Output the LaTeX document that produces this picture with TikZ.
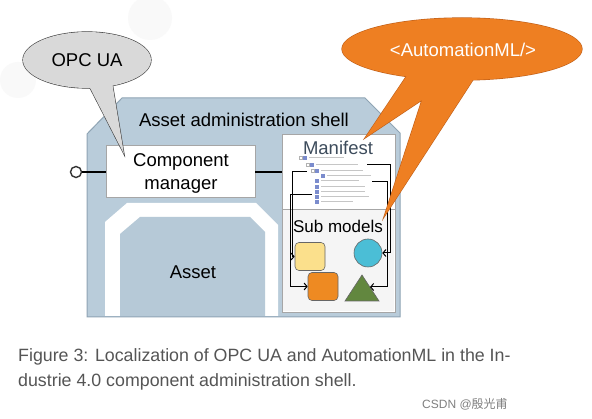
\documentclass[tikz,border=0pt]{standalone}
\usepackage{fontspec}
\setmainfont{Liberation Sans}
\newfontfamily\cjk{Noto Sans CJK SC}
\usetikzlibrary{arrows.meta,shapes.geometric}
\definecolor{shellfill}{HTML}{B9CCDA}
\definecolor{shellline}{HTML}{8FA4B4}
\definecolor{assetfill}{HTML}{B6C9D7}
\definecolor{opcfill}{HTML}{D9D9D9}
\definecolor{amlfill}{HTML}{EE7F22}
\definecolor{amlline}{HTML}{C0601A}
\definecolor{capgray}{HTML}{555555}
\definecolor{mangray}{HTML}{3D4C5C}
\definecolor{yelfill}{HTML}{FBE08C}
\definecolor{bluefill}{HTML}{4BBED6}
\definecolor{orfill}{HTML}{EE8A22}
\definecolor{grfill}{HTML}{62873F}
\definecolor{treeblue}{HTML}{5A6FC0}
\tikzset{
  lbl/.style={font=\fontsize{18.5}{22}\selectfont, anchor=base, inner sep=0pt},
  whitebox/.style={draw=gray!70, fill=white, line width=0.6pt},
  conn/.style={line width=1.4pt, black},
  brk/.style={line width=1pt, black, -{Straight Barb[length=3pt,width=7pt]}},
  shp/.style={draw=gray!80!black, line width=0.6pt},
  treeline/.style={gray!45, line width=1pt},
  treeicon/.style={fill=treeblue!80, inner sep=0pt, minimum size=3.2pt}
}
\begin{document}
\begin{tikzpicture}[x=1pt,y=-1pt]
\useasboundingbox (0,0) rectangle (592,419);
\fill[white] (0,0) rectangle (592,419);
% faint background watermark shapes
\fill[gray!5] (150,18) circle (22);
\fill[gray!5] (18,80) circle (18);

% shell
\draw[fill=shellfill, draw=shellline, line width=1pt]
  (87,134) -- (122,98) -- (365,98) -- (400,133) -- (400,317) -- (87,317) -- cycle;
\node[lbl] (title) at (244,127) {Asset administration shell};

% asset frame
\fill[white] (105,222) -- (127,203) -- (256,203) -- (278,225) -- (278,316) -- (105,316) -- cycle;
\fill[assetfill] (120,234) -- (140,217) -- (250,217) -- (265,232) -- (265,316) -- (120,316) -- cycle;
\node[lbl] (asset) at (193,279) {Asset};

% component manager
\node[whitebox, minimum width=149pt, minimum height=52pt, inner sep=0pt] (cm) at (180.5,171) {};
\node[lbl] (cm1) at (181,167) {Component};
\node[lbl] (cm2) at (181,190) {manager};
\node[circle, draw=black!80, fill=white, line width=1.4pt, minimum size=11pt, inner sep=0pt] (port) at (76,172) {};
\draw[conn] (port.east) -- (port.east -| cm.west);

% manifest / sub models panel
\node[draw=gray!70, fill=white, line width=0.8pt, minimum width=113pt, minimum height=178pt, inner sep=0pt] (panel) at (338.5,223) {};
\fill[gray!8] (282.8,209) rectangle (394.2,311.2);
\draw[gray!70, line width=0.8pt] (282,209) -- (395,209);
\draw[conn] (cm.east |- 0,172) -- (panel.west |- 0,172);
\node[lbl, text=mangray] (manifest) at (338,155) {Manifest};
\node[lbl, font=\fontsize{17}{20}\selectfont] (sub) at (338,233) {Sub models};

% tree in manifest
\foreach \x/\y/\w in {305/158/35, 312/165/42, 317/171/42, 323/176/44, 317/181/38, 317/187/44, 317/192/44, 317/197/48, 317/202/32}{
  \node[treeicon] at (\x,\y) {};
  \draw[treeline] (\x+4,\y) -- ++(\w,0);
}
\draw[gray!60, line width=0.5pt] (299,156) rectangle (302,159);
\draw[gray!60, line width=0.5pt] (306,163) rectangle (309,166);
\draw[gray!60, line width=0.5pt] (311,169) rectangle (314,172);
\coordinate (r1) at (307,172);
\coordinate (r2) at (312,195);
\coordinate (r3) at (367,165);
\coordinate (r4) at (372,182);

% sub model shapes
\node[shp, fill=yelfill, rounded corners=4pt, minimum width=30pt, minimum height=28pt, inner sep=0pt] (yel) at (310,256.5) {};
\node[shp, fill=orfill, rounded corners=4pt, minimum width=30pt, minimum height=28pt, inner sep=0pt] (ora) at (323,286.5) {};
\node[shp, circle, fill=bluefill, minimum size=28pt, inner sep=0pt] (blu) at (368,253) {};
\draw[shp, fill=grfill] (345,301) -- (362,275) -- (379,301) -- cycle;
\coordinate (tri) at (370,287);

% brackets
\draw[brk] (r1) -- (292,172) |- (yel.west);
\draw[brk] (r2) -- (290,195) |- (ora.west);
\draw[brk] (r3) -- (390,165) |- (blu.east);
\draw[brk] (r4) -- (387,182) |- (tri);

% OPC UA bubble
\draw[draw=black!75, line width=1.2pt] (87,60) ellipse (64 and 28);
\draw[draw=black!75, line width=1.2pt, line join=miter] (86,80) -- (124,154) -- (112,82);
\fill[opcfill] (87,60) ellipse (64 and 28);
\fill[opcfill] (86,80) -- (124,154) -- (112,82) -- cycle;
\node[lbl] (opc) at (87,67) {OPC UA};

% AutomationML bubble
\draw[draw=amlline, line width=1.2pt] (462,49) ellipse (120 and 31);
\draw[draw=amlline, line width=1.2pt] (412,68) -- (365,138) -- (422,100) -- (384,217) -- (478,72);
\fill[amlfill] (462,49) ellipse (120 and 31);
\fill[amlfill] (412,68) -- (365,138) -- (422,100) -- (384,217) -- (478,72) -- cycle;
\node[lbl, text=white] (aml) at (463,57) {<AutomationML/>};

% caption
\node[font=\fontsize{17.8}{22}\selectfont, text=capgray, anchor=base west, inner sep=0pt] (cap1) at (18,362) {Figure 3: Localization of OPC UA and AutomationML in the In-};
\node[font=\fontsize{17.8}{22}\selectfont, text=capgray, anchor=base west, inner sep=0pt] (cap2) at (18,387) {dustrie 4.0 component administration shell.};
\node[font=\fontsize{12}{14}\selectfont, text=gray, anchor=base west, inner sep=0pt] (wm) at (422,409) {CSDN @{\cjk 殷光甫}};
\end{tikzpicture}
\end{document}
